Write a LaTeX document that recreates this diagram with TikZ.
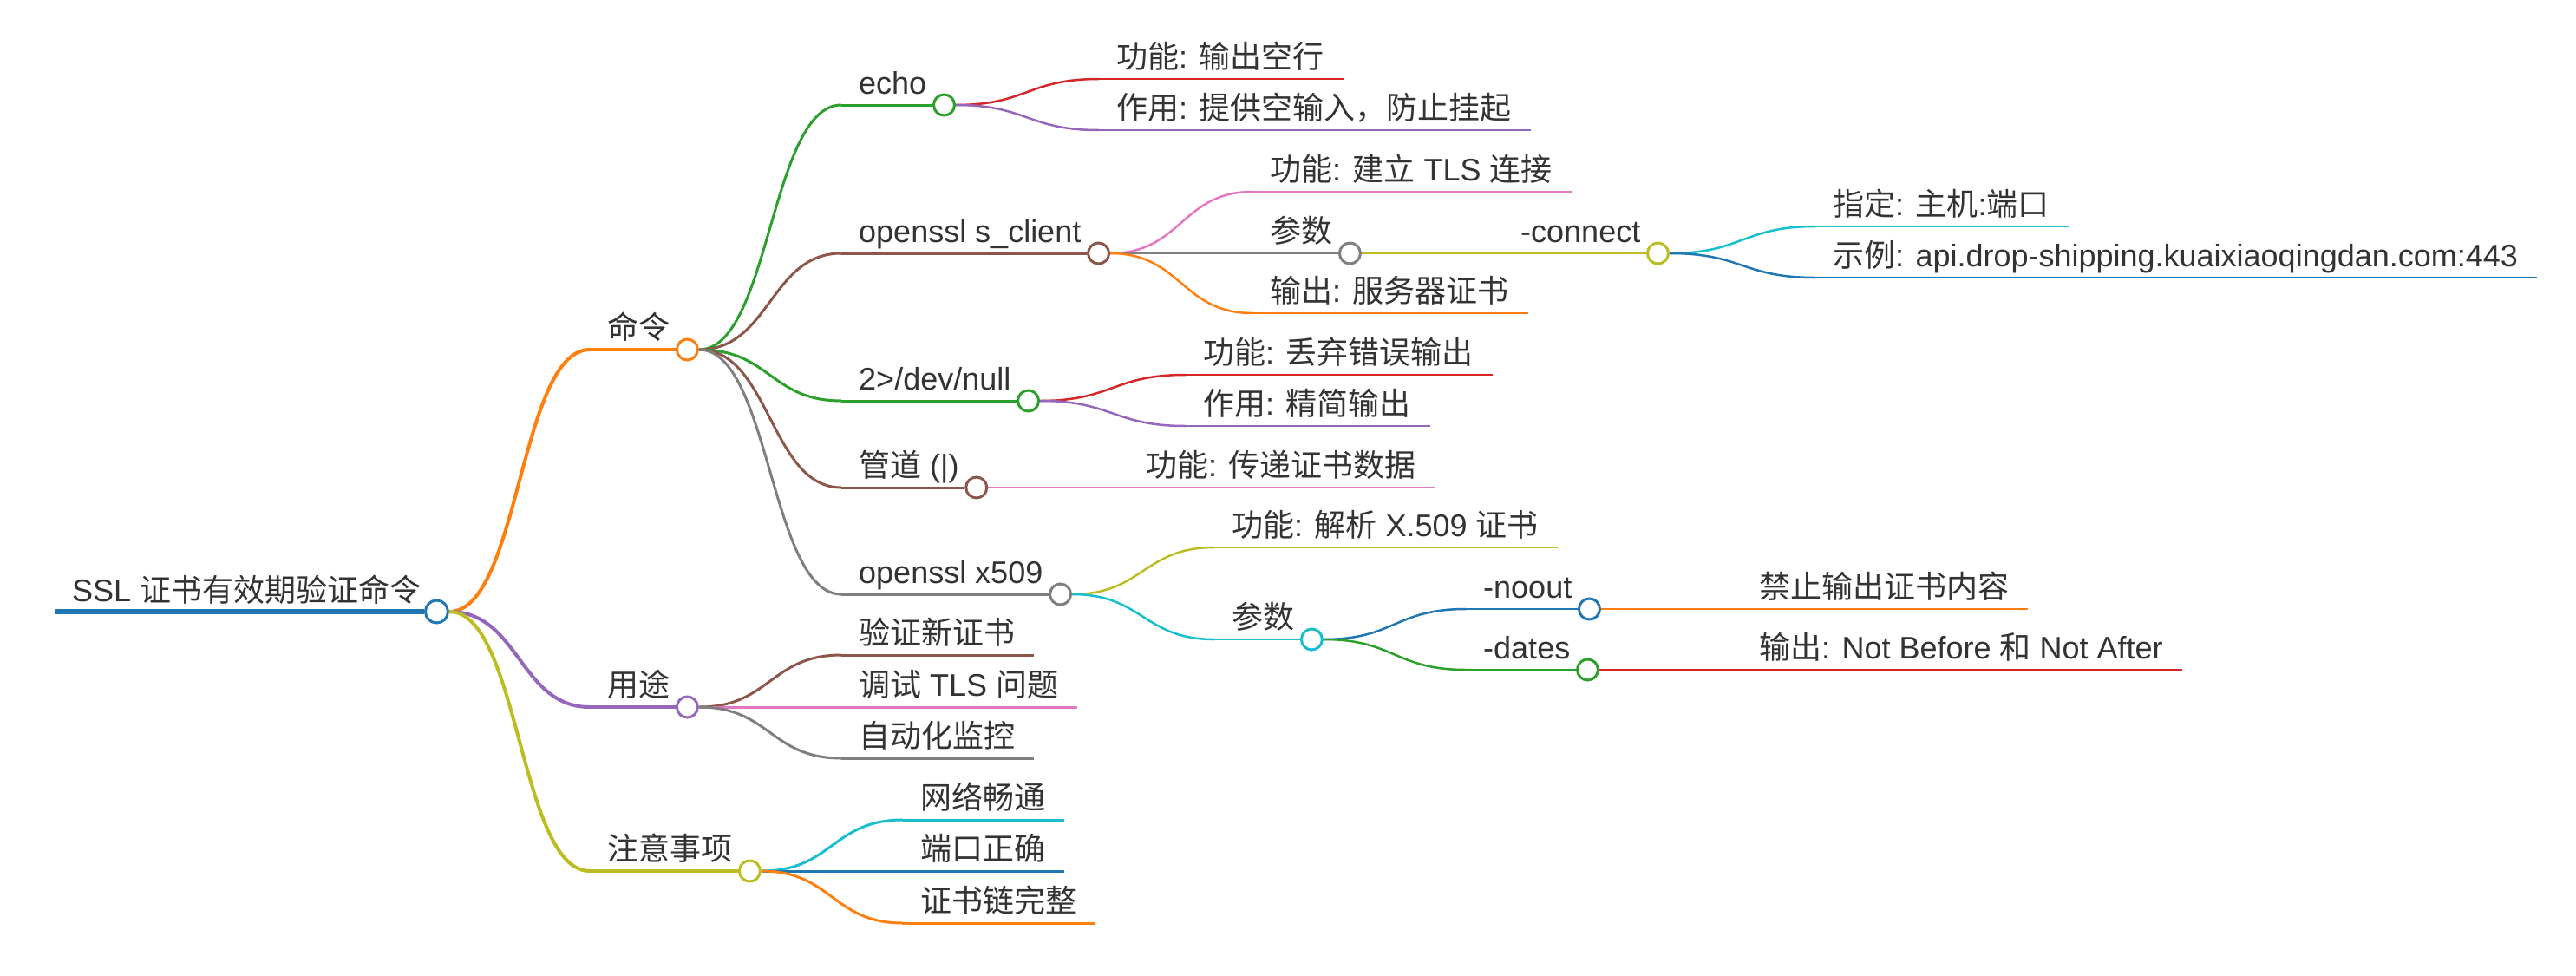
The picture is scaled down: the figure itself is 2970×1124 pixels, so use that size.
\documentclass[tikz,border=0pt]{standalone}
\usepackage{fontspec}
\setmainfont{Liberation Sans}
\newfontfamily\cjk{Noto Sans CJK SC}
\usetikzlibrary{calc}
\pgfdeclarelayer{fg}
\pgfsetlayers{main,fg}
\definecolor{cblue}{HTML}{1F77B4}
\definecolor{corange}{HTML}{FF7F0E}
\definecolor{cgreen}{HTML}{2CA02C}
\definecolor{cred}{HTML}{D62728}
\definecolor{cpurple}{HTML}{9467BD}
\definecolor{cbrown}{HTML}{8C564B}
\definecolor{cpink}{HTML}{E377C2}
\definecolor{cgrey}{HTML}{7F7F7F}
\definecolor{colive}{HTML}{BCBD22}
\definecolor{ccyan}{HTML}{17BECF}
\definecolor{textgrey}{HTML}{333333}
\newcommand{\zh}[1]{{\cjk #1}}
\tikzset{
  txt/.style={inner sep=0pt, anchor=base west, text=textgrey, font=\fontsize{36}{43}\selectfont},
  dot/.style={circle, fill=white, line width=3pt, minimum size=24pt, inner sep=0pt},
}
\newcommand{\mmcurve}[4]{%
  \draw[#3, line width=#4] let \p1=(#1.east), \p2=(#2) in
    (\p1) .. controls ({(\x1+\x2)/2},\y1) and ({(\x1+\x2)/2},\y2) .. (\p2);}
\newcommand{\mmleaf}[7]{%
  \coordinate (#1s) at (#3,#4);
  \node[txt] (#1t) at (#3+20,#4-13) {#7};
  \mmcurve{#2}{#1s}{#5}{#6}
  \coordinate (#1e) at ($(#1s -| #1t.east)+(22,0)$);
  \draw[#5, line width=#6] (#1s) -- (#1e);}
\newcommand{\mmbranch}[7]{%
  \coordinate (#1s) at (#3,#4);
  \node[txt] (#1t) at (#3+20,#4-13) {#7};
  \mmcurve{#2}{#1s}{#5}{#6}
  \begin{pgfonlayer}{fg}\node[dot, draw=#5] (#1) at ($(#1s -| #1t.east)+(20,0)$) {};\end{pgfonlayer}
  \draw[#5, line width=#6] (#1s) -- (#1);}
\begin{document}
\begin{tikzpicture}[x=1pt,y=-1pt]
\fill[white] (0,0) rectangle (2970,1124);
\useasboundingbox (0,0) rectangle (2970,1124);
% root
\coordinate (rs) at (63,705);
\node[txt] (rt) at (83,693) {SSL \zh{证书有效期验证命令}};
\begin{pgfonlayer}{fg}\node[dot, draw=cblue, minimum size=26pt] (root) at ($(rs -| rt.east)+(18,0)$) {};\end{pgfonlayer}
\draw[cblue, line width=6pt] (rs) -- (root);
% level 1
\mmbranch{cmd}{root}{680}{403}{corange}{4pt}{\zh{命令}}
\mmbranch{use}{root}{680}{815}{cpurple}{4pt}{\zh{用途}}
\mmbranch{note}{root}{680}{1004}{colive}{4pt}{\zh{注意事项}}
% level 2
\mmbranch{echo}{cmd}{970}{121}{cgreen}{3pt}{echo}
\mmbranch{scl}{cmd}{970}{292}{cbrown}{3pt}{openssl s\_client}
\mmbranch{null}{cmd}{970}{462}{cgreen}{3pt}{2>/dev/null}
\mmbranch{pipe}{cmd}{970}{562}{cbrown}{3pt}{\zh{管道} (|)}
\mmbranch{xcert}{cmd}{970}{685}{cgrey}{3pt}{openssl x509}
\mmleaf{ua}{use}{970}{755}{cbrown}{3pt}{\zh{验证新证书}}
\mmleaf{ub}{use}{970}{815}{cpink}{3pt}{\zh{调试} TLS \zh{问题}}
\mmleaf{uc}{use}{970}{874}{cgrey}{3pt}{\zh{自动化监控}}
\mmleaf{wa}{note}{1041}{945}{ccyan}{3pt}{\zh{网络畅通}}
\mmleaf{wb}{note}{1041}{1004}{cblue}{3pt}{\zh{端口正确}}
\mmleaf{wc}{note}{1041}{1064}{corange}{3pt}{\zh{证书链完整}}
% level 3+
\mmleaf{ea}{echo}{1267}{91}{cred}{2.5pt}{\zh{功能}: \zh{输出空行}}
\mmleaf{eb}{echo}{1267}{150}{cpurple}{2.5pt}{\zh{作用}: \zh{提供空输入，防止挂起}}
\mmleaf{sa}{scl}{1444}{221}{cpink}{2.5pt}{\zh{功能}: \zh{建立} TLS \zh{连接}}
\mmbranch{sp}{scl}{1444}{292}{cgrey}{2.5pt}{\zh{参数}}
\mmleaf{sc}{scl}{1444}{361}{corange}{2.5pt}{\zh{输出}: \zh{服务器证书}}
\mmbranch{conn}{sp}{1733}{292}{colive}{2.5pt}{-connect}
\mmleaf{ca}{conn}{2093}{261}{ccyan}{2.5pt}{\zh{指定}: \zh{主机}:\zh{端口}}
\mmleaf{cb}{conn}{2093}{320}{cblue}{2.5pt}{\zh{示例}: api.drop-shipping.kuaixiaoqingdan.com:443}
\mmleaf{da}{null}{1367}{432}{cred}{2.5pt}{\zh{功能}: \zh{丢弃错误输出}}
\mmleaf{db}{null}{1367}{491}{cpurple}{2.5pt}{\zh{作用}: \zh{精简输出}}
\mmleaf{pa}{pipe}{1301}{562}{cpink}{2.5pt}{\zh{功能}: \zh{传递证书数据}}
\mmleaf{xa}{xcert}{1400}{631}{colive}{2.5pt}{\zh{功能}: \zh{解析} X.509 \zh{证书}}
\mmbranch{xp}{xcert}{1400}{737}{ccyan}{2.5pt}{\zh{参数}}
\mmbranch{no}{xp}{1690}{702}{cblue}{2.5pt}{-noout}
\mmbranch{dt}{xp}{1690}{772}{cgreen}{2.5pt}{-dates}
\mmleaf{na}{no}{2008}{702}{corange}{2.5pt}{\zh{禁止输出证书内容}}
\mmleaf{ta}{dt}{2008}{772}{cred}{2.5pt}{\zh{输出}: Not Before \zh{和} Not After}
\end{tikzpicture}
\end{document}
